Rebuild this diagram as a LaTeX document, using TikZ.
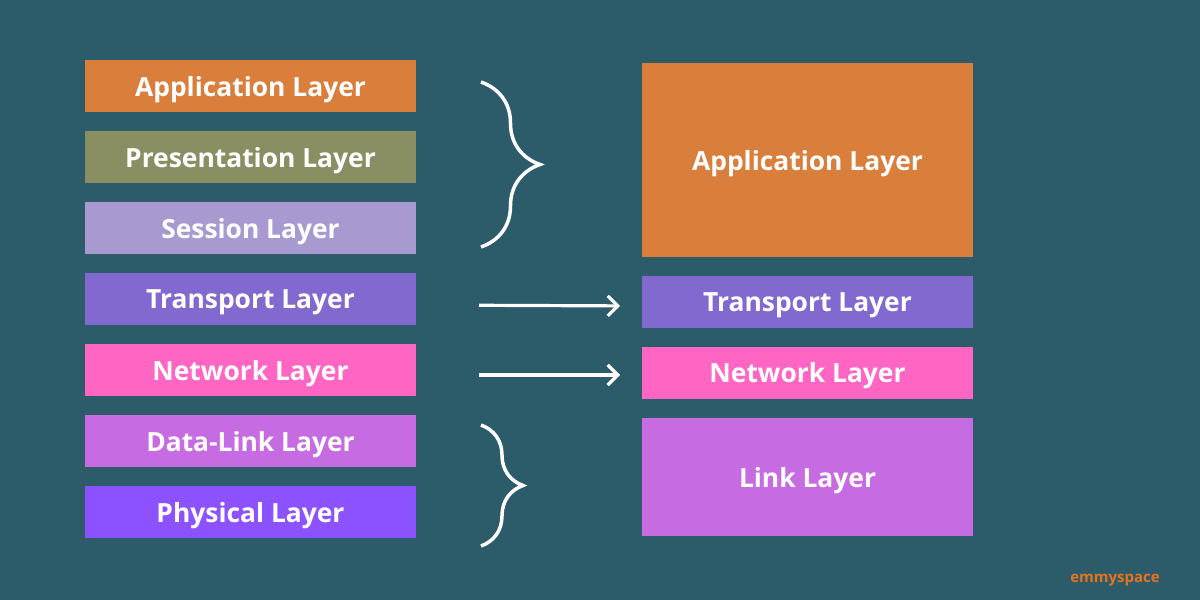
\documentclass[tikz,border=0pt]{standalone}
\usepackage{fontspec}
\setmainfont{Open Sans}
\usetikzlibrary{positioning,arrows.meta,decorations.pathreplacing}

\definecolor{bgteal}{HTML}{2C5B69}
\definecolor{apporange}{HTML}{D97E3B}
\definecolor{presolive}{HTML}{8A8F63}
\definecolor{sesslilac}{HTML}{A89AD1}
\definecolor{transviolet}{HTML}{8169CF}
\definecolor{netpink}{HTML}{FF66C4}
\definecolor{linkorchid}{HTML}{C76BE3}
\definecolor{physpurple}{HTML}{8C52FF}
\definecolor{signorange}{HTML}{E8731F}

\tikzstyle{layer} = [rectangle, minimum width=165.5pt, minimum height=26pt, inner sep=0pt, outer sep=0pt, text depth=0pt, text=white, font=\fontsize{13.2}{15}\selectfont\bfseries]
\tikzstyle{line} = [draw, white, line width=1.6pt, shorten <=31.5pt, shorten >=11pt, -{Straight Barb[length=5pt,width=10pt]}]
\tikzstyle{curly} = [draw, white, line width=1.75pt, decorate]

\begin{document}
\begin{tikzpicture}[x=0.5pt, y=-0.5pt, node distance=9.5pt]
    \fill [bgteal] (0,0) rectangle (1200,600);
    \useasboundingbox (0,0) rectangle (1200,600);

    % OSI model, left column
    \node [layer, fill=apporange] at (250.5,86) (lapp) {Application Layer};
    \node [layer, fill=presolive, below=of lapp] (lpres) {Presentation Layer};
    \node [layer, fill=sesslilac, below=of lpres] (lsess) {Session Layer};
    \node [layer, fill=transviolet, below=of lsess] (ltrans) {Transport Layer};
    \node [layer, fill=netpink, below=of ltrans] (lnet) {Network Layer};
    \node [layer, fill=linkorchid, below=of lnet] (llink) {Data-Link Layer};
    \node [layer, fill=physpurple, below=of llink] (lphys) {Physical Layer};

    % TCP/IP model, right column
    \node [layer, fill=apporange, minimum height=97pt] at (807.5,160) (rapp) {Application Layer};
    \node [layer, fill=transviolet] at (807.5,302) (rtrans) {Transport Layer};
    \node [layer, fill=netpink] at (807.5,372.5) (rnet) {Network Layer};
    \node [layer, fill=linkorchid, minimum height=59pt] at (807.5,477) (rlink) {Link Layer};

    % braces and arrows
    \coordinate (uppertop) at (481,82);
    \coordinate (upperbot) at (481,247);
    \coordinate (lowertop) at (481,425);
    \coordinate (lowerbot) at (481,546);
    \path [curly, decoration={brace, amplitude=29.5pt}] (uppertop) -- (upperbot);
    \path [curly, decoration={brace, amplitude=21pt}] (lowertop) -- (lowerbot);
    \path [line] ([yshift=-3pt]ltrans.east) -- ([yshift=-2pt]rtrans.west);
    \path [line] ([yshift=-2.5pt]lnet.east) -- ([yshift=-1.25pt]rnet.west);

    \node [text=signorange, font=\fontsize{7.5}{9}\selectfont\bfseries] at (1115,580) (sign) {emmyspace};
\end{tikzpicture}
\end{document}
